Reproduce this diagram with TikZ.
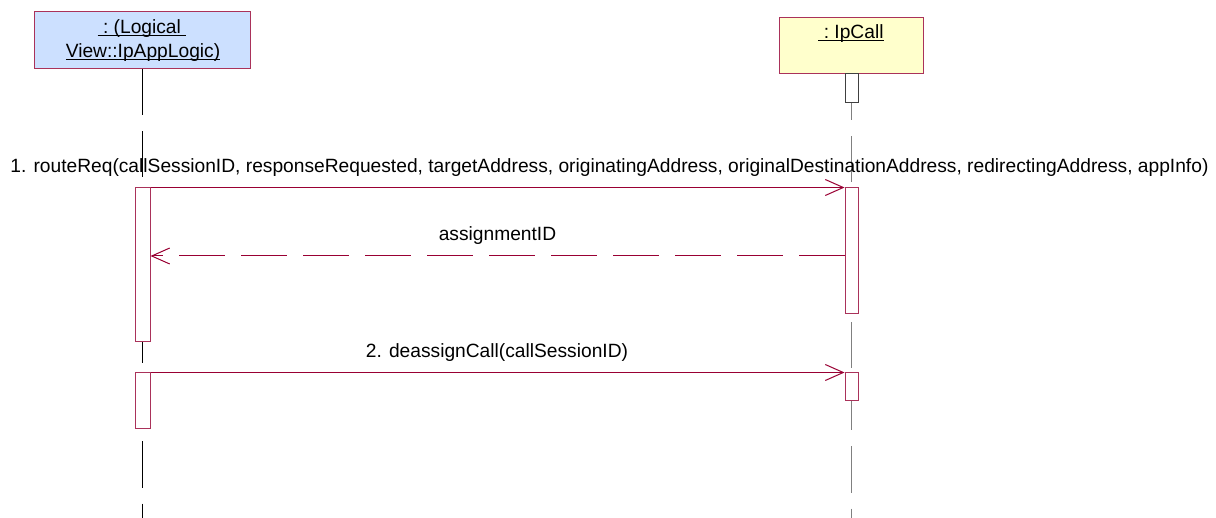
\documentclass[tikz,border=0pt]{standalone}
\usepackage{fontspec}
\setmainfont{Liberation Sans}
\usetikzlibrary{arrows.meta}
\definecolor{umlborder}{RGB}{170,50,90}
\definecolor{umlline}{RGB}{153,0,51}
\definecolor{bluefill}{RGB}{204,224,255}
\definecolor{yellowfill}{RGB}{255,255,204}
\newcommand\myul[1]{\setbox0\hbox{#1}\rlap{\rule[-2.5pt]{\wd0}{1pt}}\box0}
\begin{document}
\begin{tikzpicture}[x=1pt,y=-1pt,
  objbox/.style={draw=umlborder,line width=1pt,inner sep=0pt,rectangle},
  actbox/.style={draw=umlborder,fill=white,line width=1pt,inner sep=0pt,rectangle,minimum width=#1},
  lifeline/.style={line width=1pt,dash pattern=on 46pt off 16pt},
  msg/.style={draw=umlline,line width=1pt,-{Straight Barb[length=18pt,width=16pt,line width=1pt]}},
  retmsg/.style={msg,dash pattern=on 46pt off 16pt},
  lbl/.style={anchor=base,inner sep=0pt,font=\fontsize{19.2}{23}\selectfont}]
\useasboundingbox (0,0) rectangle (1216,518);
\coordinate (bottom) at (0,518);
\coordinate (rowB) at (0,256);
% objects
\node[objbox,fill=bluefill,minimum width=216pt,minimum height=57pt] (objA) at (142,40.5) {};
\node[objbox,fill=yellowfill,minimum width=144pt,minimum height=56pt] (objB) at (851,46) {};
\node[lbl] (labA1) at (142,34) {\myul{\ :\ (Logical\ }};
\node[lbl] (labA2) at (143,58) {\myul{View::IpAppLogic)}};
\node[lbl] (labB) at (851,39) {\myul{\ :\ IpCall}};
% lifelines
\draw[lifeline,black] (objA.south) -- (objA.south |- bottom);
\draw[lifeline,gray] (objB.south) -- (objB.south |- bottom);
% activations
\node[actbox=15pt,minimum height=154pt] (L1) at (142.5,265) {};
\node[actbox=15pt,minimum height=56pt] (L2) at (142.5,401) {};
\node[actbox=13pt,minimum height=29pt,draw=darkgray] (R0) at (851.5,88.5) {};
\node[actbox=13pt,minimum height=126pt] (R1) at (851.5,251) {};
\node[actbox=13pt,minimum height=28pt] (R2) at (851.5,387) {};
% messages
\draw[msg] (L1.north east) -- (R1.north west);
\node[lbl] (m1) at (609.5,173) {1. routeReq(callSessionID, responseRequested, targetAddress, originatingAddress, originalDestinationAddress, redirectingAddress, appInfo)};
\draw[retmsg] (R1.west |- rowB) -- (L1.east |- rowB);
\node[lbl] (m1r) at (497.5,241) {assignmentID};
\draw[msg] (L2.north east) -- (R2.north west);
\node[lbl] (m2) at (497,358) {2. deassignCall(callSessionID)};
\end{tikzpicture}
\end{document}
